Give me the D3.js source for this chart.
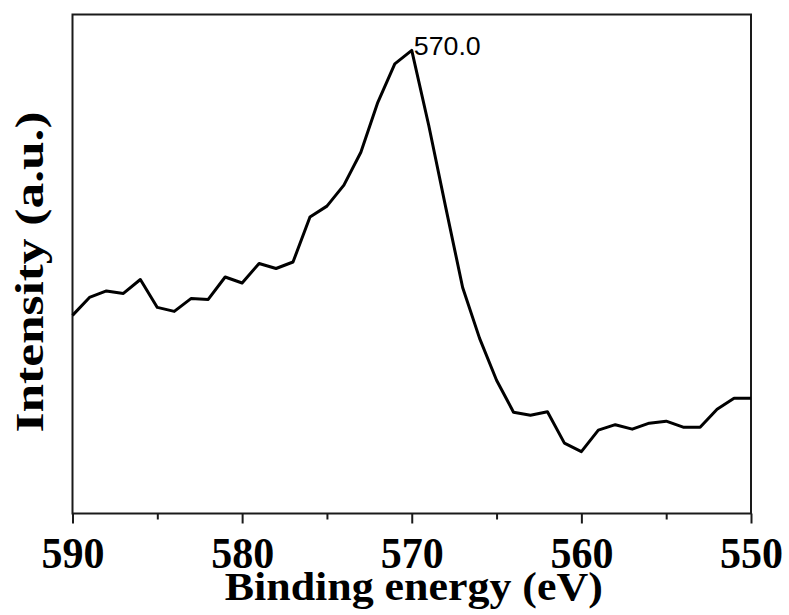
<!DOCTYPE html>
<html>
<head>
<meta charset="utf-8">
<script src="https://cdn.jsdelivr.net/npm/d3@7"></script>
<style>
  html, body { margin: 0; padding: 0; background: #fff; }
  svg { display: block; }
</style>
</head>
<body>
<svg id="chart" width="789" height="615"></svg>
<script>
// XPS spectrum: binding energy (eV) vs intensity (arbitrary units)
const energy = [590, 589, 588, 587, 586, 585, 584, 583, 582, 581, 580,
                579, 578, 577, 576, 575, 574, 573, 572, 571, 570,
                569, 568, 567, 566, 565, 564, 563, 562, 561, 560,
                559, 558, 557, 556, 555, 554, 553, 552, 551, 550];
const intensity = [397, 433, 446, 441, 469, 413, 405, 431, 429, 474, 462,
                   501, 491, 504, 594, 616, 658, 724, 824, 901, 928,
                   778, 614, 453, 351, 267, 203, 197, 204, 141, 124,
                   167, 178, 169, 181, 185, 173, 173, 209, 231, 231];
const majorTicks = [590, 580, 570, 560, 550];
const minorTicks = [585, 575, 565, 555];
const peakEnergy = 570.0;

const svg = d3.select("#chart");
const margin = { left: 72.5, right: 38, top: 14.5, bottom: 101.5 };
const W = 789, H = 615;
const serif = "'Liberation Serif', 'Times New Roman', serif";

const x = d3.scaleLinear().domain([590, 550]).range([margin.left, W - margin.right]);
const y = d3.scaleLinear().domain([0, 1000]).range([H - margin.bottom, margin.top]);

// frame
svg.append("rect")
  .attr("x", margin.left).attr("y", margin.top)
  .attr("width", x(550) - x(590)).attr("height", y(0) - y(1000))
  .attr("fill", "none").attr("stroke", "#1a1a1a").attr("stroke-width", 2);

// bottom axis with major and minor ticks
const axisG = svg.append("g").attr("transform", `translate(0,${y(0)})`);
axisG.call(d3.axisBottom(x).tickValues(majorTicks).tickSize(10).tickPadding(13).tickFormat(d3.format("d")))
  .call(g => g.select(".domain").remove())
  .call(g => g.selectAll(".tick line").attr("stroke", "#1a1a1a").attr("stroke-width", 2))
  .call(g => g.selectAll(".tick text")
    .attr("font-family", serif)
    .attr("font-weight", "bold").attr("font-size", 45).attr("fill", "#000")
    .attr("textLength", 63).attr("lengthAdjust", "spacingAndGlyphs"));
const minorG = svg.append("g").attr("transform", `translate(0,${y(0)})`);
minorG.call(d3.axisBottom(x).tickValues(minorTicks).tickSize(6).tickFormat(""))
  .call(g => g.select(".domain").remove())
  .call(g => g.selectAll(".tick line").attr("stroke", "#1a1a1a").attr("stroke-width", 2));

// spectrum line
const line = d3.line().x((d, i) => x(energy[i])).y(d => y(d));
svg.append("path")
  .datum(intensity)
  .attr("d", line)
  .attr("fill", "none").attr("stroke", "#000")
  .attr("stroke-width", 3).attr("stroke-linejoin", "round");

// peak label
const peakIdx = energy.indexOf(peakEnergy);
svg.append("text")
  .attr("x", x(peakEnergy) + 2).attr("y", y(intensity[peakIdx]) + 4.5)
  .attr("font-family", "'Liberation Sans', Arial, sans-serif")
  .attr("font-size", 26).attr("fill", "#000")
  .attr("textLength", 67).attr("lengthAdjust", "spacingAndGlyphs")
  .text(peakEnergy.toFixed(1));

// axis titles
svg.append("text")
  .attr("x", (x(590) + x(550)) / 2 + 2).attr("y", 600)
  .attr("text-anchor", "middle")
  .attr("font-family", serif)
  .attr("font-weight", "bold").attr("font-size", 39)
  .attr("textLength", 378).attr("lengthAdjust", "spacingAndGlyphs")
  .text("Binding energy (eV)");

svg.append("text")
  .attr("transform", `translate(43,${(y(0) + y(1000)) / 2 + 8}) rotate(-90)`)
  .attr("text-anchor", "middle")
  .attr("font-family", serif)
  .attr("font-weight", "bold").attr("font-size", 40)
  .attr("textLength", 321).attr("lengthAdjust", "spacingAndGlyphs")
  .text("Intensity (a.u.)");
</script>
</body>
</html>
